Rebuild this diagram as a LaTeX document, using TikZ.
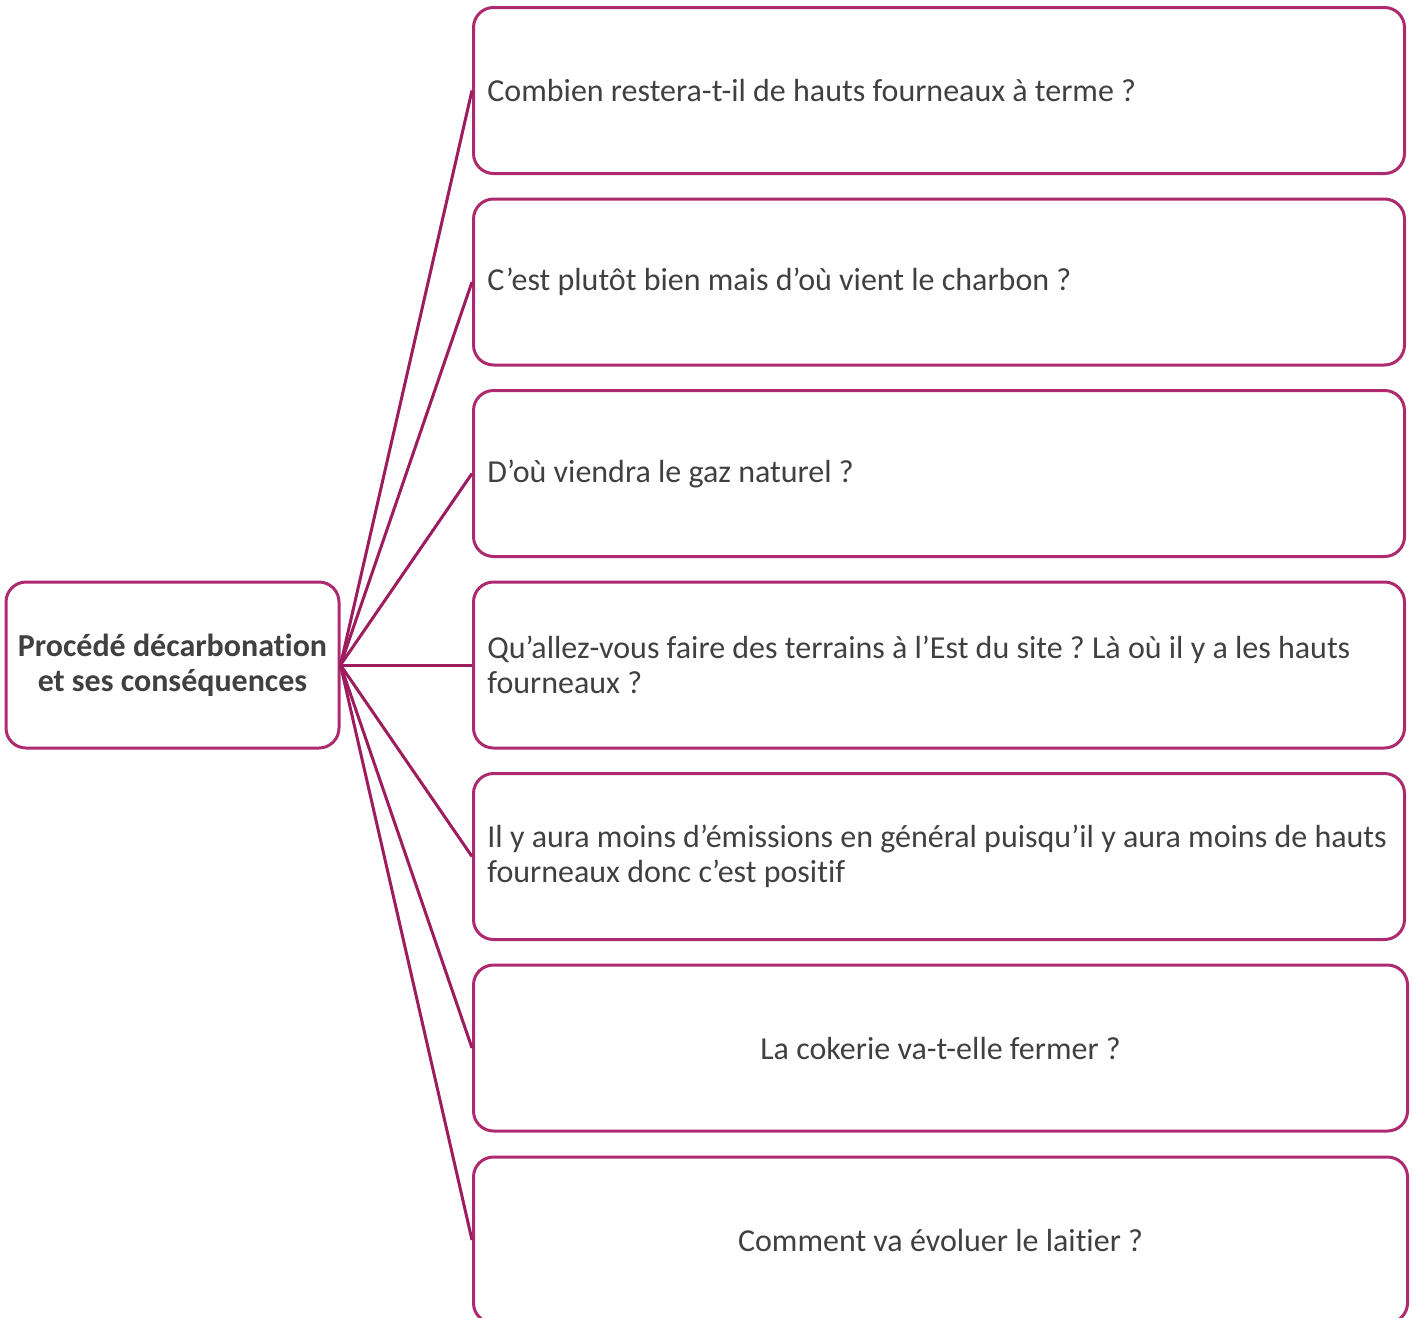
\documentclass[tikz,border=0pt]{standalone}
\usepackage{fontspec}
\setmainfont[Ligatures={NoCommon}]{Carlito}
\frenchspacing
\definecolor{boxc}{HTML}{AE2A6E}
\definecolor{linec}{HTML}{9C1C5E}
\definecolor{txt}{HTML}{404040}
\begin{document}
\begin{tikzpicture}[x=0.5pt,y=-0.5pt,
  qbox/.style={draw=boxc, line width=1.5pt, rounded corners=10pt, rectangle,
    minimum width=465.5pt, minimum height=83pt, inner sep=0pt, anchor=west},
  qwide/.style={qbox, minimum width=467pt},
  qtext/.style={inner sep=0pt, text=txt, align=left,
    font=\fontsize{16pt}{17.5pt}\selectfont\frenchspacing},
  root/.style={draw=boxc, line width=1.5pt, rounded corners=10pt, rectangle,
    minimum width=166.5pt, minimum height=83pt, inner sep=0pt, align=center,
    font=\fontsize{16pt}{17.5pt}\selectfont\bfseries, text=txt},
  conn/.style={draw=linec, line width=1.5pt}]
\useasboundingbox (0,0) rectangle (1413,1317);
\node[root] (r) at (172.5,665) {Procédé décarbonation\\et ses conséquences};
\node[qbox] (b1) at (472,90.5) {};
\node[qbox] (b2) at (472,282) {};
\node[qbox] (b3) at (472,473.5) {};
\node[qbox] (b4) at (472,665) {};
\node[qbox] (b5) at (472,856.5) {};
\node[qwide] (b6) at (472,1048) {};
\node[qwide] (b7) at (472,1240) {};
\node[qtext, anchor=west] (t1) at ([xshift=7.5pt]b1.west) {Combien restera-t-il de hauts fourneaux à terme ?};
\node[qtext, anchor=west] (t2) at ([xshift=7.5pt]b2.west) {C’est plutôt bien mais d’où vient le charbon ?};
\node[qtext, anchor=west] (t3) at ([xshift=7.5pt]b3.west) {D’où viendra le gaz naturel ?};
\node[qtext, anchor=west] (t4) at ([xshift=7.5pt]b4.west) {Qu’allez-vous faire des terrains à l’Est du site ? Là où il y a les hauts\\fourneaux ?};
\node[qtext, anchor=west] (t5) at ([xshift=7.5pt]b5.west) {Il y aura moins d’émissions en général puisqu’il y aura moins de hauts\\fourneaux donc c’est positif};
\node[qtext] (t6) at (b6.center) {La cokerie va-t-elle fermer ?};
\node[qtext] (t7) at (b7.center) {Comment va évoluer le laitier ?};
\foreach \b in {b1,b2,b3,b4,b5,b6,b7}{
  \draw[conn] (r.east) -- (\b.west);
}
\end{tikzpicture}
\end{document}
